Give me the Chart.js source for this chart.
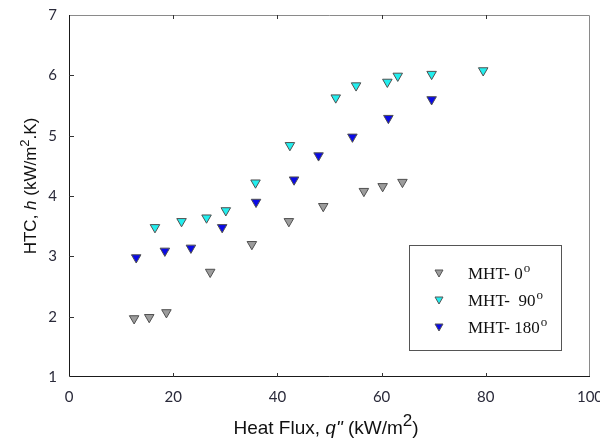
<!DOCTYPE html>
<html>
<head>
<meta charset="utf-8">
<title>HTC vs Heat Flux</title>
<script src="https://cdn.jsdelivr.net/npm/chart.js@4/dist/chart.umd.min.js"></script>
<style>
  body { margin: 0; background: #fff; }
  #wrap { width: 600px; height: 438px; }
</style>
</head>
<body>
<div id="wrap"><canvas id="chart" width="600" height="438"></canvas></div>
<script>
// Datos
const seriesNames = ['MHT- 0', 'MHT-  90', 'MHT- 180'];

const qGray = [12.5, 15.4, 18.7, 27.1, 35.1, 42.2, 48.8, 56.6, 60.2, 64.0];
const hGray = [1.97, 1.99, 2.07, 2.74, 3.20, 3.58, 3.83, 4.08, 4.16, 4.23];

const qCyan = [16.5, 21.6, 26.4, 30.1, 35.8, 42.4, 51.2, 55.1, 61.1, 63.1, 69.6, 79.5];
const hCyan = [3.48, 3.58, 3.64, 3.76, 4.22, 4.84, 5.63, 5.83, 5.89, 5.99, 6.02, 6.08];

const qBlue = [12.9, 18.4, 23.4, 29.4, 35.9, 43.2, 47.9, 54.4, 61.3, 69.6];
const hBlue = [2.98, 3.09, 3.14, 3.48, 3.90, 4.27, 4.67, 4.98, 5.29, 5.60];

const xTicks = [0, 20, 40, 60, 80, 100];
const yTicks = [1, 2, 3, 4, 5, 6, 7];

const colores = ['#9c9c9c', '#22eeee', '#0a0ae6'];

function puntos(xs, ys) {
    return xs.map((x, i) => ({ x: x, y: ys[i] }));
}

// Marco, marcas interiores, títulos y leyenda
const extrasPlugin = {
    id: 'extras',
    beforeDatasetsDraw(chart) {
        const { ctx, chartArea: a, scales } = chart;
        ctx.save();
        ctx.lineWidth = 1;
        // bordes superior y derecho en gris
        ctx.strokeStyle = '#8a8a8a';
        ctx.beginPath();
        ctx.moveTo(a.left, a.top + 0.5);
        ctx.lineTo(a.right - 0.5, a.top + 0.5);
        ctx.lineTo(a.right - 0.5, a.bottom);
        ctx.stroke();
        // ejes izquierdo e inferior en negro
        ctx.strokeStyle = '#1a1a1a';
        ctx.beginPath();
        ctx.moveTo(a.left + 0.5, a.top);
        ctx.lineTo(a.left + 0.5, a.bottom - 0.5);
        ctx.lineTo(a.right, a.bottom - 0.5);
        ctx.stroke();
        // marcas
        ctx.strokeStyle = '#333';
        ctx.beginPath();
        xTicks.slice(1, -1).forEach(v => {
            const px = Math.round(scales.x.getPixelForValue(v)) + 0.5;
            ctx.moveTo(px, a.bottom);
            ctx.lineTo(px, a.bottom - 4);
            ctx.moveTo(px, a.top);
            ctx.lineTo(px, a.top + 4);
        });
        yTicks.slice(1, -1).forEach(v => {
            const py = Math.round(scales.y.getPixelForValue(v)) + 0.5;
            ctx.moveTo(a.left, py);
            ctx.lineTo(a.left + 5, py);
        });
        ctx.stroke();
        ctx.restore();
    },
    afterDraw(chart) {
        const { ctx, chartArea: a } = chart;
        ctx.save();
        ctx.fillStyle = '#111';
        ctx.textBaseline = 'alphabetic';

        // título eje x: Heat Flux, q" (kW/m2)
        const sans = '"Liberation Sans", Arial, sans-serif';
        let partes = [
            { t: 'Heat Flux, ', f: '19px ' + sans, dy: 0 },
            { t: 'q"', f: 'italic 19px ' + sans, dy: 0 },
            { t: ' (kW/m', f: '19px ' + sans, dy: 0 },
            { t: '2', f: '17px ' + sans, dy: -8 },
            { t: ')', f: '19px ' + sans, dy: 0 }
        ];
        let ancho = 0;
        partes.forEach(p => { ctx.font = p.f; ancho += ctx.measureText(p.t).width; });
        let x = 326 - ancho / 2;
        partes.forEach(p => {
            ctx.font = p.f;
            ctx.fillText(p.t, x, 434 + p.dy);
            x += ctx.measureText(p.t).width;
        });

        // título eje y: HTC, h (kW/m2.K)
        partes = [
            { t: 'HTC, ', f: '17px ' + sans, dy: 0 },
            { t: 'h', f: 'italic 17px ' + sans, dy: 0 },
            { t: ' (kW/m', f: '17px ' + sans, dy: 0 },
            { t: '2', f: '13px ' + sans, dy: -7 },
            { t: '.K)', f: '17px ' + sans, dy: 0 }
        ];
        ancho = 0;
        partes.forEach(p => { ctx.font = p.f; ancho += ctx.measureText(p.t).width; });
        ctx.translate(36, 186);
        ctx.rotate(-Math.PI / 2);
        x = -ancho / 2;
        partes.forEach(p => {
            ctx.font = p.f;
            ctx.fillText(p.t, x, p.dy);
            x += ctx.measureText(p.t).width;
        });
        ctx.setTransform(1, 0, 0, 1, 0, 0);

        // leyenda
        ctx.fillStyle = '#fff';
        ctx.fillRect(409, 245, 152, 105);
        ctx.strokeStyle = '#555';
        ctx.lineWidth = 1;
        ctx.strokeRect(409.5, 245.5, 152, 105);
        const serif = '"Liberation Serif", "Times New Roman", serif';
        seriesNames.forEach((nombre, i) => {
            const cy = 273 + i * 27;
            // triángulo invertido
            ctx.beginPath();
            ctx.moveTo(435, cy - 3);
            ctx.lineTo(443, cy - 3);
            ctx.lineTo(439, cy + 4);
            ctx.closePath();
            ctx.fillStyle = colores[i];
            ctx.fill();
            ctx.strokeStyle = '#555';
            ctx.stroke();
            ctx.fillStyle = '#111';
            ctx.font = '17px ' + serif;
            ctx.fillText(nombre, 468, cy + 6);
            const w = ctx.measureText(nombre).width;
            ctx.font = '13px ' + serif;
            ctx.fillText('o', 468 + w + 1, cy - 1);
        });
        ctx.restore();
    }
};

new Chart(document.getElementById('chart'), {
    type: 'scatter',
    data: {
        datasets: [
            { label: seriesNames[0], data: puntos(qGray, hGray), backgroundColor: colores[0] },
            { label: seriesNames[1], data: puntos(qCyan, hCyan), backgroundColor: colores[1] },
            { label: seriesNames[2], data: puntos(qBlue, hBlue), backgroundColor: colores[2] }
        ].map(d => Object.assign(d, {
            pointStyle: 'triangle',
            pointRotation: 180,
            pointRadius: 5.5,
            pointBorderWidth: 1,
            borderColor: '#505050',
            pointBorderColor: '#505050'
        }))
    },
    options: {
        responsive: false,
        animation: false,
        layout: { padding: { top: 15, right: 10, left: 0, bottom: 0 } },
        plugins: { legend: { display: false }, tooltip: { enabled: false } },
        scales: {
            x: {
                type: 'linear', min: 0, max: 100,
                afterFit: s => { s.height = 61; s.paddingLeft = 0; s.paddingRight = 0; },
                afterBuildTicks: s => { s.ticks = xTicks.map(v => ({ value: v })); },
                grid: { display: false, drawTicks: false },
                border: { display: false },
                ticks: { padding: 11, color: '#2a2a3a', font: { family: 'Lato', size: 15 } }
            },
            y: {
                type: 'linear', min: 1, max: 7,
                afterFit: s => { s.width = 69; s.paddingTop = 0; s.paddingBottom = 0; },
                afterBuildTicks: s => { s.ticks = yTicks.map(v => ({ value: v })); },
                grid: { display: false, drawTicks: false },
                border: { display: false },
                ticks: { padding: 12, color: '#2a2a3a', font: { family: 'Lato', size: 15 } }
            }
        }
    },
    plugins: [extrasPlugin]
});
</script>
</body>
</html>
